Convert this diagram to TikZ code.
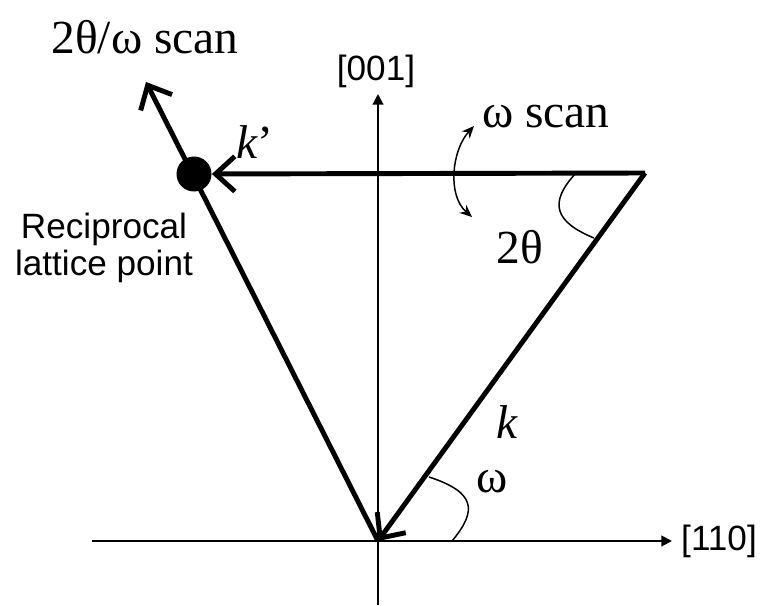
\documentclass[tikz,border=0pt]{standalone}
\usepackage{fontspec}
\setmainfont{Liberation Serif}
\newfontfamily\arialfont{Liberation Sans}
\usetikzlibrary{arrows.meta}

\begin{document}
\begin{tikzpicture}[x=0.02cm,y=-0.02cm,
    vec/.style={line width=2.8pt,-{Straight Barb[length=11pt,width=20pt]}},
    axis/.style={line width=1.1pt,-{Triangle[length=6pt,width=6pt]}},
    thin arc/.style={line width=0.85pt},
    serif lbl/.style={font=\fontsize{27}{30}\selectfont},
    sans lbl/.style={font=\arialfont\fontsize{20}{21}\selectfont}]
    \useasboundingbox (0,0) rectangle (763,605);
    % main points
    \coordinate (O) at (378,541);
    \coordinate (T) at (645,173);
    \coordinate (P) at (194,174);
    \coordinate (S) at (146,82);
    \coordinate (xl) at (92,541);
    \coordinate (xr) at (672,541);
    \coordinate (yb) at (378,605);
    \coordinate (yt) at (378,94);
    % axes
    \draw[axis] (xl) -- (xr);
    \draw[axis] (yb) -- (yt);
    \node[sans lbl] (x110) at (719,541) {[110]};
    \node[sans lbl] (y001) at (376,71) {[001]};
    % vectors
    \draw[vec] (O) -- (S);
    \node[circle,fill=black,inner sep=0pt,minimum size=0.7cm] (dot) at (P) {};
    \draw[vec] (T) -- (dot);
    \draw[vec] (T) -- (O);
    % angles
    \draw[thin arc] (576,173) .. controls (548,203) and (555,222) .. (594,238);
    \draw[thin arc] (429,477) .. controls (475,492) and (478,510) .. (452,541);
    \draw[thin arc,{Stealth[length=7pt,width=6pt]}-{Stealth[length=7pt,width=6pt]}]
        (474,126) .. controls (452,150) and (447,195) .. (472,217);
    % labels
    \node[serif lbl] (scan2) at (145,37) {2θ/ω scan};
    \node[serif lbl] (scan1) at (546,117) {ω scan};
    \node[serif lbl] (kp) at (255,142) {\textit{k}’};
    \node[serif lbl] (kk) at (507,422) {\textit{k}};
    \node[serif lbl] (tt) at (520,247) {2θ};
    \node[serif lbl] (om) at (492,482) {ω};
    \node[sans lbl,align=center] (rlp) at (104,248) {Reciprocal\\lattice point};
\end{tikzpicture}
\end{document}
